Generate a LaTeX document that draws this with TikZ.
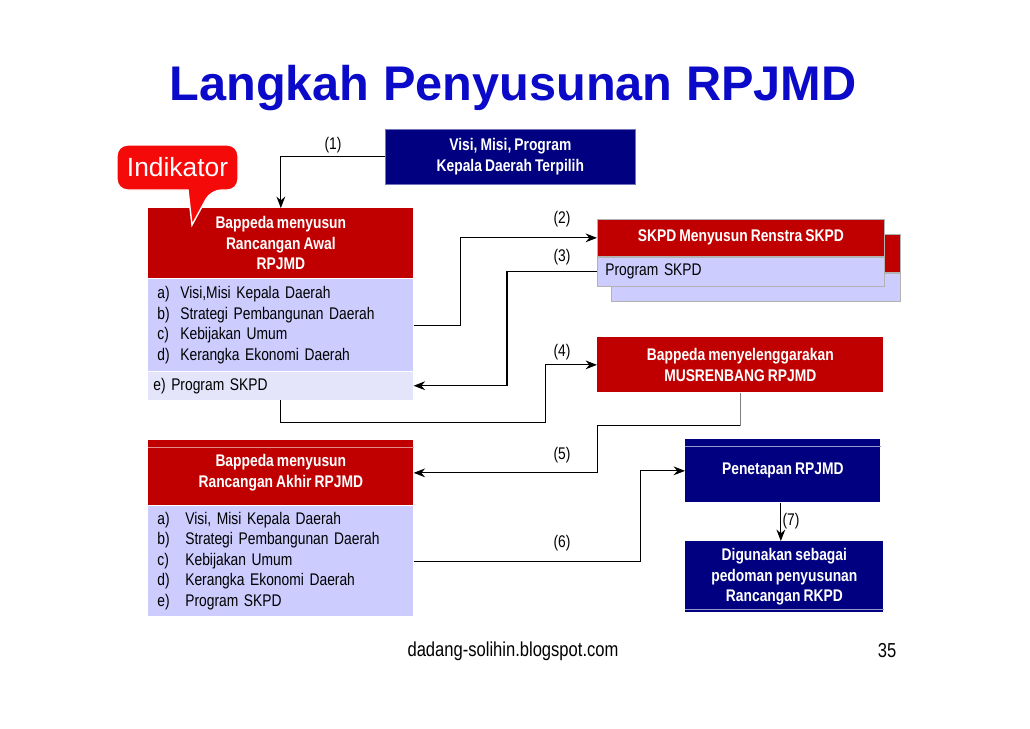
\documentclass[tikz,border=0pt]{standalone}
\usepackage{fontspec}
\setmainfont{Liberation Sans}
\newfontfamily\narrowsf[FakeStretch=0.82, WordSpace=0.8]{Liberation Sans}
\usepackage{tikz}
\usetikzlibrary{arrows.meta, positioning, calc}
\definecolor{titleblue}{RGB}{10,10,200}
\definecolor{boxnavy}{RGB}{0,0,128}
\definecolor{headred}{RGB}{192,0,0}
\definecolor{listlav}{RGB}{204,204,255}
\definecolor{listlight}{RGB}{228,228,250}
\definecolor{indired}{RGB}{245,10,10}
\newcommand{\boxsize}{\fontsize{9.6}{11.7}\selectfont}
\tikzset{
  redhead/.style={
    rectangle, fill=headred, text=white, align=center,
    font=\narrowsf\bfseries\boxsize, inner sep=0pt},
  navybox/.style={
    rectangle, fill=boxnavy, text=white, align=center,
    font=\narrowsf\bfseries\boxsize, inner sep=0pt},
  listbox/.style={
    rectangle, fill=listlav, align=left,
    font=\narrowsf\boxsize, inner xsep=0.18cm, inner ysep=0pt},
  sheen/.style={line width=0.4pt},
  steplabel/.style={font=\narrowsf\boxsize},
  arrow/.style={-{Stealth[length=6.5pt, width=5pt]}, line width=0.6pt,
                color=black}
}

\begin{document}
\begin{tikzpicture}[x=0.02cm, y=-0.02cm]
  \useasboundingbox (0,0) rectangle (1030,728);

  %% Title
  \node[font=\bfseries\fontsize{27.7}{33}\selectfont, text=titleblue]
    (title) at (513,88) {Langkah Penyusunan RPJMD};

  %% Top: vision box
  \node[navybox, anchor=north west, minimum width=5cm, minimum height=1.1cm,
        draw=boxnavy!55!white, line width=0.4pt]
    (visi) at (385,129) {Visi, Misi, Program\\Kepala Daerah Terpilih};

  %% Left column: Rancangan Awal
  \node[redhead, anchor=north west, minimum width=5.3cm, minimum height=1.4cm]
    (hdrA) at (148,208) {Bappeda menyusun\\Rancangan Awal\\RPJMD};
  \node[listbox, below=0pt of hdrA, text width=4.94cm, minimum height=1.84cm]
    (listA) {\makebox[0.46cm][l]{a)}Visi,Misi Kepala Daerah\\
             \makebox[0.46cm][l]{b)}Strategi Pembangunan Daerah\\
             \makebox[0.46cm][l]{c)}Kebijakan Umum\\
             \makebox[0.46cm][l]{d)}Kerangka Ekonomi Daerah};
  \node[listbox, fill=listlight, below=0pt of listA, inner xsep=0.1cm,
        text width=5.1cm, minimum height=0.56cm]
    (eRow) {e) Program SKPD};

  %% Indicator callout, over the header
  \draw[fill=indired, draw=white, line width=0.8pt, rounded corners=6pt]
    (117,145) -- (238,145) -- (238,190) -- (211,190)
    [sharp corners] -- (192,225) -- (188,190)
    [rounded corners=6pt] -- (117,190) -- cycle;
  \node[text=white, font=\fontsize{15}{18}\selectfont, inner sep=0pt]
    (indik) at (177.5,167.5) {Indikator};

  %% Left column: Rancangan Akhir
  \node[redhead, anchor=north west, minimum width=5.3cm, minimum height=1.3cm]
    (hdrB) at (148,440) {Bappeda menyusun\\Rancangan Akhir RPJMD};
  \draw[sheen, headred!45!white] ([yshift=-0.14cm]hdrB.north west)
    -- ([yshift=-0.14cm]hdrB.north east);
  \node[listbox, below=0pt of hdrB, text width=4.94cm, minimum height=2.2cm]
    (listB) {\makebox[0.56cm][l]{a)}Visi, Misi Kepala Daerah\\
             \makebox[0.56cm][l]{b)}Strategi Pembangunan Daerah\\
             \makebox[0.56cm][l]{c)}Kebijakan Umum\\
             \makebox[0.56cm][l]{d)}Kerangka Ekonomi Daerah\\
             \makebox[0.56cm][l]{e)}Program SKPD};

  %% Right column: Renstra SKPD (stacked)
  \node[redhead, anchor=north west, minimum width=5.78cm, minimum height=0.76cm,
        draw=gray!60, line width=0.4pt]
    (skpdBackH) at (611,234) {};
  \node[listbox, below=0pt of skpdBackH, minimum width=5.78cm,
        minimum height=0.56cm, draw=gray!60, line width=0.4pt]
    (skpdBackL) {};
  \node[redhead, anchor=north west, minimum width=5.74cm, minimum height=0.74cm,
        draw=gray!60, line width=0.4pt]
    (skpdH) at (597,219) {SKPD Menyusun Renstra SKPD};
  \node[listbox, below=0pt of skpdH, inner xsep=0.16cm, text width=5.42cm,
        minimum height=0.58cm, draw=gray!60, line width=0.4pt]
    (skpdL) {Program SKPD};

  %% Right column: Musrenbang
  \node[redhead, anchor=north west, minimum width=5.72cm, minimum height=1.1cm]
    (musren) at (597,337) {Bappeda menyelenggarakan\\MUSRENBANG RPJMD};

  %% Right column: Penetapan and use
  \node[navybox, anchor=north west, minimum width=3.9cm, minimum height=1.26cm]
    (penet) at (685,439) {Penetapan RPJMD};
  \draw[sheen, boxnavy!40!white] ([yshift=-0.14cm]penet.north west)
    -- ([yshift=-0.14cm]penet.north east);
  \node[navybox, anchor=north west, minimum width=3.96cm, minimum height=1.42cm]
    (digu) at (685,541) {Digunakan sebagai\\pedoman penyusunan\\Rancangan RKPD};
  \draw[sheen, boxnavy!40!white] ([yshift=0.06cm]digu.south west)
    -- ([yshift=0.06cm]digu.south east);

  %% Arrows
  \draw[arrow] (visi.west) -| (hdrA.north);
  \draw[arrow] (listA.east) -- ++(47,0) |- (skpdH.west);
  \draw[arrow] (skpdL.west) -- ++(-90,0) |- (eRow.east);
  \draw[arrow] (eRow.south) -- ++(0,22) -- ++(264.5,0) |- (musren.west);
  \draw[line width=0.6pt, gray] (musren.south) -- ++(0,33) coordinate (m5);
  \draw[arrow] (m5) -- ++(-143,0) |- (hdrB.east);
  \draw[arrow] (listB.east) -- ++(227,0) |- (penet.west);
  \draw[arrow] ([xshift=-0.04cm]penet.south) -- ([xshift=-0.04cm]penet.south |- digu.north);

  %% Step labels
  \node[steplabel] (s1) at (333,145) {(1)};
  \node[steplabel] (s2) at (562,219) {(2)};
  \node[steplabel] (s3) at (562,257) {(3)};
  \node[steplabel] (s4) at (562,352) {(4)};
  \node[steplabel] (s5) at (562,455) {(5)};
  \node[steplabel] (s6) at (562,543) {(6)};
  \node[steplabel] (s7) at (791,521) {(7)};

  %% Footer
  \node[font=\narrowsf\fontsize{11.5}{14}\selectfont] (web) at (513,651)
    {dadang-solihin.blogspot.com};
  \node[font=\narrowsf\fontsize{11.5}{14}\selectfont] (page) at (887,651) {35};

\end{tikzpicture}
\end{document}
